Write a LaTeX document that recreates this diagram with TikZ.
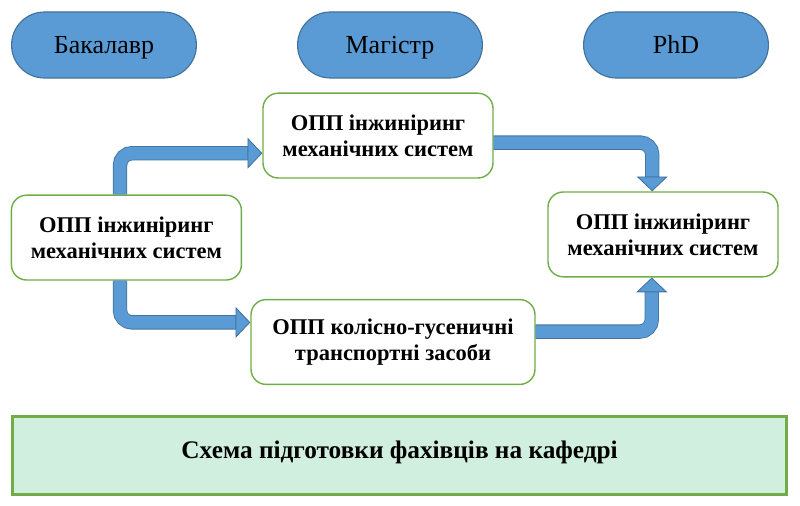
\documentclass[tikz,border=0pt]{standalone}
\usepackage{fontspec}
\setmainfont{LiberationSerif}[Extension=.ttf, UprightFont=*-Regular, BoldFont=*-Bold, ItalicFont=*-Italic, BoldItalicFont=*-BoldItalic]
\usetikzlibrary{arrows.meta, positioning}
\definecolor{levelblue}{HTML}{5B9BD5}
\definecolor{leveledge}{HTML}{41719C}
\definecolor{opgreen}{HTML}{70AD47}
\definecolor{capfill}{HTML}{D0EFDF}
\tikzstyle{level} = [rectangle, rounded corners=0.82cm, minimum width=4.62cm, minimum height=1.65cm, text height=0.45cm, text depth=0.01cm, text centered, draw=leveledge, line width=0.8pt, fill=levelblue, font=\fontsize{18.5}{22}\selectfont]
\tikzstyle{program} = [rectangle, rounded corners=0.38cm, minimum width=5.75cm, minimum height=2.12cm, align=center, draw=opgreen, line width=1pt, fill=white, font=\bfseries\fontsize{16}{18.5}\selectfont]
\tikzstyle{caption} = [rectangle, minimum width=19.35cm, minimum height=1.95cm, text depth=0.3cm, draw=opgreen, line width=1.8pt, fill=capfill, font=\bfseries\fontsize{18}{22}\selectfont]
\tikzstyle{arrow} = [line width=9pt, draw=levelblue, rounded corners=0.3cm, -{Triangle[length=10.5pt, width=22pt, line width=0.6pt, color=leveledge, fill=levelblue]}, preaction={draw=leveledge, line width=10.2pt, arrows=-, shorten >=9pt}]

\begin{document}
\begin{tikzpicture}[node distance=7.15cm]
\useasboundingbox (0,0) rectangle (20,-12.65);
\node (bac) [level] at (2.6,-1.125) {Бакалавр};
\node (mag) [level, right of=bac] {Магістр};
\node (phd) [level, right of=mag] {PhD};
\node (opbac) [program] at (3.16,-5.94) {ОПП інжиніринг\\механічних систем};
\node (opmag) [program] at (9.45,-3.39) {ОПП інжиніринг\\механічних систем};
\node (opkts) [program, minimum width=7.1cm] at (9.825,-8.55) {ОПП колісно-гусеничні\\транспортні засоби};
\node (opphd) [program] at (16.575,-5.86) {ОПП інжиніринг\\механічних систем};
\node (scheme) [caption] at (9.99,-11.39) {Схема підготовки фахівців на кафедрі};
\draw [arrow] ([xshift=-0.16cm]opbac.north) |- ([yshift=-0.44cm]opmag.west);
\draw [arrow] ([yshift=-0.175cm]opmag.east) -| ([xshift=-0.27cm]opphd.north);
\draw [arrow] ([xshift=-0.16cm]opbac.south) |- ([yshift=0.49cm]opkts.west);
\draw [arrow] ([yshift=0.26cm]opkts.east) -| ([xshift=-0.28cm]opphd.south);
\end{tikzpicture}
\end{document}
